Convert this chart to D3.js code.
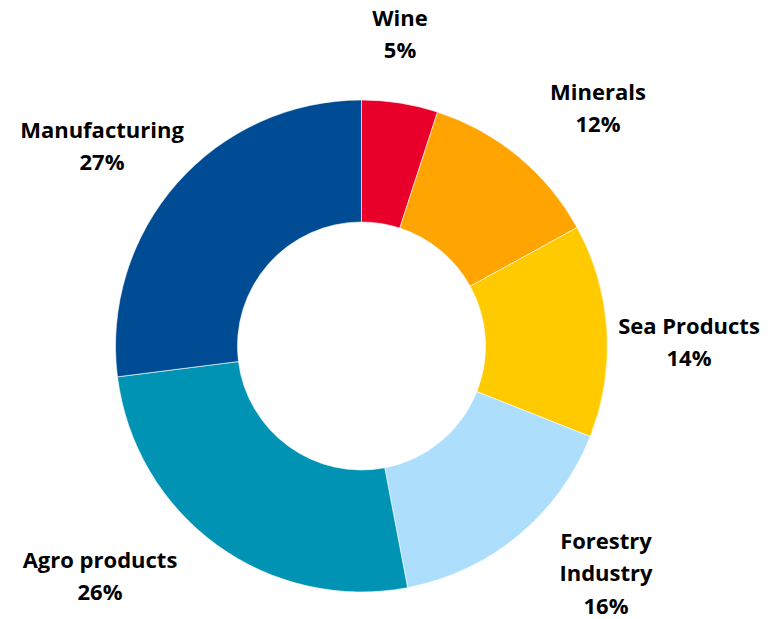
<!DOCTYPE html>
<html>
<head>
<meta charset="utf-8">
<script src="https://cdn.jsdelivr.net/npm/d3@7"></script>
<style>
  html, body { margin: 0; padding: 0; background: #fff; }
  svg text { font-family: "Open Sans", Lato, sans-serif; font-weight: 700; fill: #000; }
</style>
</head>
<body>
<svg id="chart" width="780" height="619"></svg>
<script>
// Export composition by sector (share of total, %)
const categories = ["Wine", "Minerals", "Sea Products", "Forestry Industry", "Agro products", "Manufacturing"];
const shares = [5, 12, 14, 16, 26, 27];
const colors = ["#E8002A", "#FFA400", "#FFCB00", "#ADDFFD", "#0093B4", "#004C94"];

// Label text split into lines for each sector
const labelLines = {
  "Wine": ["Wine"],
  "Minerals": ["Minerals"],
  "Sea Products": ["Sea Products"],
  "Forestry Industry": ["Forestry", "Industry"],
  "Agro products": ["Agro products"],
  "Manufacturing": ["Manufacturing"]
};

// Label anchor points (centre of first line)
const labelAnchor = {
  "Wine": [400, 18],
  "Minerals": [598, 92],
  "Sea Products": [689, 326],
  "Forestry Industry": [606, 541],
  "Agro products": [100, 560],
  "Manufacturing": [102, 130]
};

const cx = 361.5, cy = 346, outerR = 246, innerR = 124;
const lineH = 32.5;

const svg = d3.select("#chart");
const g = svg.append("g").attr("transform", `translate(${cx},${cy})`);

const data = categories.map((c, i) => ({ name: c, value: shares[i], color: colors[i] }));

const pie = d3.pie().value(d => d.value).sort(null);
const arc = d3.arc().innerRadius(innerR).outerRadius(outerR);

g.selectAll("path.slice")
  .data(pie(data))
  .join("path")
  .attr("class", "slice")
  .attr("d", arc)
  .attr("fill", d => d.data.color)
  .attr("stroke", "#fff")
  .attr("stroke-width", 0.6);

const labels = svg.selectAll("g.label")
  .data(data)
  .join("g")
  .attr("class", "label");

labels.each(function (d) {
  const [x, y] = labelAnchor[d.name];
  const lines = labelLines[d.name].concat([d.value + "%"]);
  const t = d3.select(this).append("text")
    .attr("text-anchor", "middle")
    .attr("font-size", 22);
  lines.forEach((ln, i) => {
    t.append("tspan")
      .attr("x", x)
      .attr("y", y + i * lineH)
      .attr("dy", "0.35em")
      .text(ln);
  });
});
</script>
</body>
</html>
